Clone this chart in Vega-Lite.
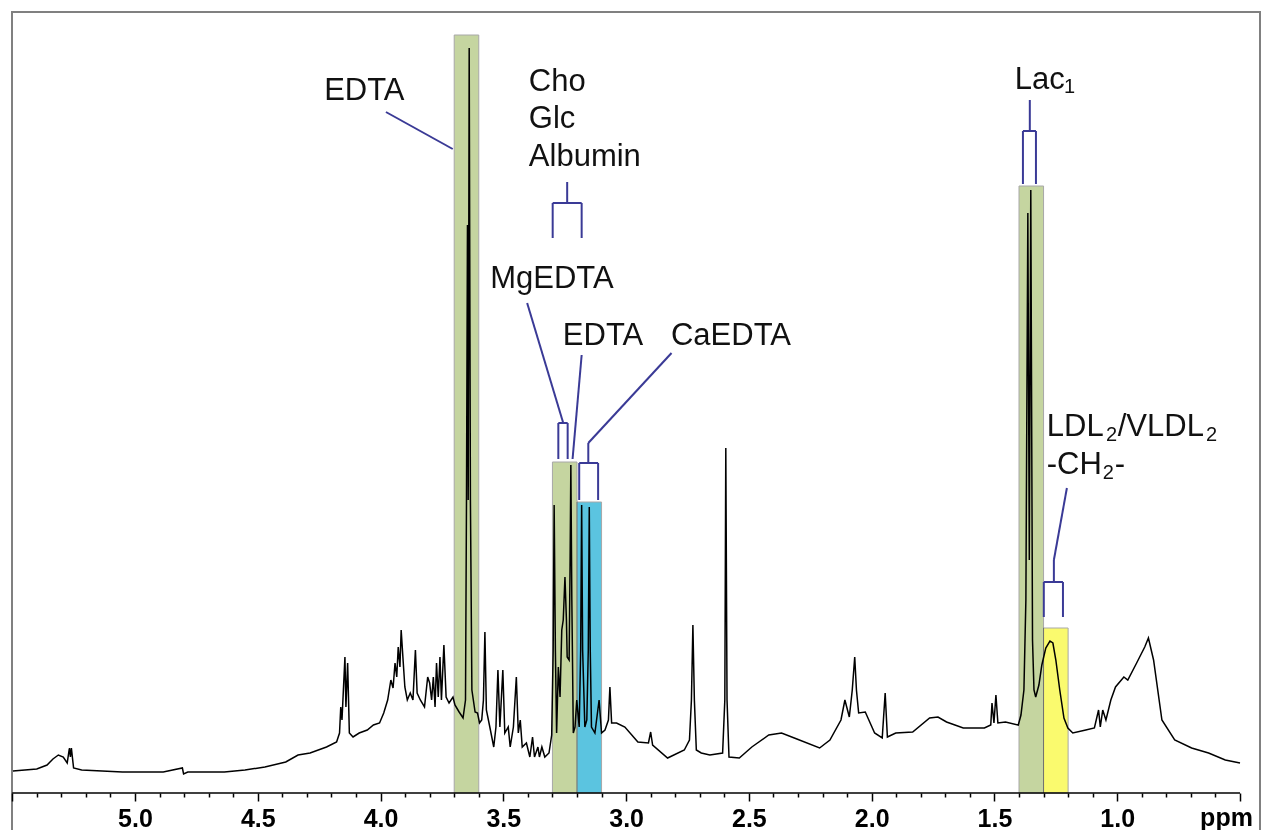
{
  "$schema": "https://vega.github.io/schema/vega-lite/v6.json",
  "autosize": {"type": "none"},
  "padding": {"left": 12, "top": 12, "right": 2, "bottom": 0},
  "width": 1248,
  "height": 820,
  "background": "white",
  "config": {"view": {"stroke": "#808080", "strokeWidth": 2}},
  "datasets": {
    "spectrum": [
      {"ppm":5.497,"I":22},{"ppm":5.400,"I":24},{"ppm":5.358,"I":28},{"ppm":5.334,"I":34},{"ppm":5.312,"I":38},{"ppm":5.292,"I":36},{"ppm":5.276,"I":30},{"ppm":5.267,"I":45},{"ppm":5.263,"I":36},{"ppm":5.259,"I":45},{"ppm":5.250,"I":25},{"ppm":5.217,"I":23},{"ppm":5.051,"I":21},{"ppm":4.885,"I":21},{"ppm":4.807,"I":25},{"ppm":4.802,"I":19},{"ppm":4.785,"I":21},{"ppm":4.636,"I":21},{"ppm":4.552,"I":23},{"ppm":4.471,"I":26},{"ppm":4.386,"I":31},{"ppm":4.336,"I":38},{"ppm":4.287,"I":40},{"ppm":4.220,"I":46},{"ppm":4.179,"I":51},{"ppm":4.167,"I":60},{"ppm":4.162,"I":86},{"ppm":4.157,"I":73},{"ppm":4.145,"I":136},{"ppm":4.141,"I":86},{"ppm":4.134,"I":130},{"ppm":4.127,"I":60},{"ppm":4.112,"I":56},{"ppm":4.087,"I":60},{"ppm":4.054,"I":63},{"ppm":4.029,"I":68},{"ppm":4.004,"I":70},{"ppm":3.987,"I":80},{"ppm":3.971,"I":93},{"ppm":3.958,"I":113},{"ppm":3.949,"I":105},{"ppm":3.941,"I":130},{"ppm":3.934,"I":116},{"ppm":3.928,"I":146},{"ppm":3.921,"I":126},{"ppm":3.916,"I":163},{"ppm":3.909,"I":136},{"ppm":3.901,"I":106},{"ppm":3.891,"I":93},{"ppm":3.879,"I":100},{"ppm":3.868,"I":93},{"ppm":3.858,"I":143},{"ppm":3.851,"I":100},{"ppm":3.838,"I":93},{"ppm":3.821,"I":86},{"ppm":3.808,"I":116},{"ppm":3.800,"I":110},{"ppm":3.792,"I":93},{"ppm":3.785,"I":116},{"ppm":3.778,"I":86},{"ppm":3.772,"I":130},{"ppm":3.765,"I":96},{"ppm":3.758,"I":136},{"ppm":3.752,"I":93},{"ppm":3.742,"I":148},{"ppm":3.733,"I":96},{"ppm":3.721,"I":90},{"ppm":3.705,"I":96},{"ppm":3.697,"I":88},{"ppm":3.680,"I":81},{"ppm":3.664,"I":75},{"ppm":3.654,"I":93},{"ppm":3.650,"I":293},{"ppm":3.646,"I":568},{"ppm":3.643,"I":293},{"ppm":3.639,"I":745},{"ppm":3.634,"I":293},{"ppm":3.628,"I":103},{"ppm":3.615,"I":81},{"ppm":3.605,"I":80},{"ppm":3.597,"I":70},{"ppm":3.588,"I":73},{"ppm":3.581,"I":93},{"ppm":3.575,"I":161},{"ppm":3.569,"I":83},{"ppm":3.555,"I":66},{"ppm":3.539,"I":46},{"ppm":3.530,"I":66},{"ppm":3.522,"I":123},{"ppm":3.514,"I":66},{"ppm":3.502,"I":123},{"ppm":3.494,"I":60},{"ppm":3.480,"I":66},{"ppm":3.472,"I":46},{"ppm":3.459,"I":66},{"ppm":3.447,"I":116},{"ppm":3.439,"I":60},{"ppm":3.431,"I":73},{"ppm":3.423,"I":46},{"ppm":3.406,"I":50},{"ppm":3.392,"I":36},{"ppm":3.381,"I":56},{"ppm":3.373,"I":36},{"ppm":3.359,"I":46},{"ppm":3.353,"I":36},{"ppm":3.343,"I":46},{"ppm":3.331,"I":36},{"ppm":3.314,"I":40},{"ppm":3.303,"I":58},{"ppm":3.297,"I":143},{"ppm":3.293,"I":288},{"ppm":3.288,"I":143},{"ppm":3.283,"I":60},{"ppm":3.276,"I":126},{"ppm":3.269,"I":96},{"ppm":3.262,"I":163},{"ppm":3.256,"I":173},{"ppm":3.249,"I":216},{"ppm":3.243,"I":173},{"ppm":3.240,"I":136},{"ppm":3.232,"I":133},{"ppm":3.228,"I":233},{"ppm":3.225,"I":328},{"ppm":3.221,"I":193},{"ppm":3.215,"I":60},{"ppm":3.208,"I":66},{"ppm":3.201,"I":93},{"ppm":3.191,"I":66},{"ppm":3.185,"I":143},{"ppm":3.181,"I":288},{"ppm":3.177,"I":143},{"ppm":3.168,"I":66},{"ppm":3.160,"I":73},{"ppm":3.154,"I":143},{"ppm":3.150,"I":286},{"ppm":3.146,"I":143},{"ppm":3.141,"I":66},{"ppm":3.127,"I":60},{"ppm":3.110,"I":93},{"ppm":3.100,"I":60},{"ppm":3.086,"I":63},{"ppm":3.072,"I":73},{"ppm":3.066,"I":106},{"ppm":3.059,"I":70},{"ppm":3.039,"I":70},{"ppm":3.005,"I":66},{"ppm":2.952,"I":51},{"ppm":2.909,"I":50},{"ppm":2.900,"I":61},{"ppm":2.892,"I":48},{"ppm":2.831,"I":35},{"ppm":2.763,"I":43},{"ppm":2.742,"I":53},{"ppm":2.734,"I":93},{"ppm":2.728,"I":168},{"ppm":2.722,"I":93},{"ppm":2.714,"I":43},{"ppm":2.694,"I":40},{"ppm":2.659,"I":38},{"ppm":2.607,"I":40},{"ppm":2.598,"I":93},{"ppm":2.594,"I":345},{"ppm":2.589,"I":93},{"ppm":2.581,"I":36},{"ppm":2.539,"I":35},{"ppm":2.488,"I":46},{"ppm":2.419,"I":58},{"ppm":2.367,"I":60},{"ppm":2.315,"I":55},{"ppm":2.212,"I":45},{"ppm":2.170,"I":53},{"ppm":2.125,"I":73},{"ppm":2.109,"I":93},{"ppm":2.091,"I":76},{"ppm":2.079,"I":103},{"ppm":2.069,"I":136},{"ppm":2.062,"I":103},{"ppm":2.053,"I":80},{"ppm":2.026,"I":81},{"ppm":1.988,"I":60},{"ppm":1.957,"I":55},{"ppm":1.945,"I":100},{"ppm":1.936,"I":56},{"ppm":1.902,"I":60},{"ppm":1.833,"I":61},{"ppm":1.764,"I":75},{"ppm":1.730,"I":76},{"ppm":1.695,"I":71},{"ppm":1.627,"I":65},{"ppm":1.541,"I":65},{"ppm":1.515,"I":68},{"ppm":1.510,"I":90},{"ppm":1.502,"I":70},{"ppm":1.494,"I":98},{"ppm":1.486,"I":70},{"ppm":1.455,"I":71},{"ppm":1.403,"I":68},{"ppm":1.392,"I":78},{"ppm":1.380,"I":103},{"ppm":1.372,"I":193},{"ppm":1.364,"I":580},{"ppm":1.358,"I":233},{"ppm":1.352,"I":603},{"ppm":1.345,"I":153},{"ppm":1.339,"I":103},{"ppm":1.332,"I":96},{"ppm":1.319,"I":108},{"ppm":1.307,"I":128},{"ppm":1.291,"I":145},{"ppm":1.274,"I":152},{"ppm":1.262,"I":150},{"ppm":1.250,"I":133},{"ppm":1.234,"I":103},{"ppm":1.217,"I":75},{"ppm":1.201,"I":65},{"ppm":1.181,"I":60},{"ppm":1.128,"I":63},{"ppm":1.093,"I":65},{"ppm":1.076,"I":83},{"ppm":1.069,"I":66},{"ppm":1.059,"I":83},{"ppm":1.046,"I":73},{"ppm":1.026,"I":93},{"ppm":1.007,"I":106},{"ppm":0.973,"I":116},{"ppm":0.957,"I":113},{"ppm":0.921,"I":130},{"ppm":0.888,"I":146},{"ppm":0.873,"I":155},{"ppm":0.852,"I":133},{"ppm":0.818,"I":73},{"ppm":0.766,"I":53},{"ppm":0.697,"I":45},{"ppm":0.628,"I":40},{"ppm":0.560,"I":33},{"ppm":0.500,"I":30}
    ],
    "boxes": [
      {"from":3.70,"to":3.60,"top":758,"base":0,"bin":"excluded"},
      {"from":3.30,"to":3.20,"top":331,"base":0,"bin":"excluded"},
      {"from":3.20,"to":3.10,"top":291,"base":0,"bin":"CaEDTA"},
      {"from":1.40,"to":1.30,"top":607,"base":0,"bin":"excluded"},
      {"from":1.30,"to":1.20,"top":165,"base":0,"bin":"LDL"}
    ],
    "segs": [
      {"x1":3.978,"y1":681,"x2":3.706,"y2":644},
      {"x1":3.240,"y1":611,"x2":3.240,"y2":590},
      {"x1":3.299,"y1":590,"x2":3.181,"y2":590},
      {"x1":3.299,"y1":590,"x2":3.299,"y2":555},
      {"x1":3.181,"y1":590,"x2":3.181,"y2":555},
      {"x1":3.403,"y1":490,"x2":3.256,"y2":370},
      {"x1":3.276,"y1":370,"x2":3.238,"y2":370},
      {"x1":3.276,"y1":370,"x2":3.276,"y2":334},
      {"x1":3.238,"y1":370,"x2":3.238,"y2":334},
      {"x1":3.181,"y1":438,"x2":3.218,"y2":334},
      {"x1":2.815,"y1":440,"x2":3.154,"y2":350},
      {"x1":3.154,"y1":350,"x2":3.154,"y2":330},
      {"x1":3.191,"y1":330,"x2":3.114,"y2":330},
      {"x1":3.191,"y1":330,"x2":3.191,"y2":293},
      {"x1":3.114,"y1":330,"x2":3.114,"y2":293},
      {"x1":1.356,"y1":693,"x2":1.356,"y2":662},
      {"x1":1.384,"y1":662,"x2":1.331,"y2":662},
      {"x1":1.384,"y1":662,"x2":1.384,"y2":609},
      {"x1":1.331,"y1":662,"x2":1.331,"y2":609},
      {"x1":1.205,"y1":305,"x2":1.258,"y2":233},
      {"x1":1.258,"y1":233,"x2":1.258,"y2":211},
      {"x1":1.299,"y1":211,"x2":1.221,"y2":211},
      {"x1":1.299,"y1":211,"x2":1.299,"y2":176},
      {"x1":1.221,"y1":211,"x2":1.221,"y2":176}
    ],
    "labelsC": [
      {"ppm":4.066,"I":693,"text":"EDTA"},
      {"ppm":3.302,"I":505,"text":"MgEDTA"},
      {"ppm":3.094,"I":448,"text":"EDTA"},
      {"ppm":2.573,"I":448,"text":"CaEDTA"}
    ],
    "labelsL": [
      {"ppm":3.396,"I":702,"text":"Cho"},
      {"ppm":3.396,"I":665,"text":"Glc"},
      {"ppm":3.396,"I":627,"text":"Albumin"},
      {"ppm":1.417,"I":704,"text":"Lac"},
      {"ppm":1.287,"I":357,"text":"LDL"},
      {"ppm":0.998,"I":357,"text":"/VLDL"},
      {"ppm":1.287,"I":319,"text":"-CH"},
      {"ppm":1.010,"I":319,"text":"-"}
    ],
    "labelsSub": [
      {"ppm":1.217,"I":700,"text":"1"},
      {"ppm":1.046,"I":352,"text":"2"},
      {"ppm":0.639,"I":352,"text":"2"},
      {"ppm":1.059,"I":314,"text":"2"}
    ],
    "axisline": [{"from":5.5,"to":0.5,"I":0}]
  },
  "encoding": {
    "x": {"field": "ppm", "type": "quantitative",
      "scale": {"domain": [0.4186, 5.5008], "reverse": true, "nice": false, "zero": false},
      "axis": {
        "values": [0.5,0.6,0.7,0.8,0.9,1.0,1.1,1.2,1.3,1.4,1.5,1.6,1.7,1.8,1.9,2.0,2.1,2.2,2.3,2.4,2.5,2.6,2.7,2.8,2.9,3.0,3.1,3.2,3.3,3.4,3.5,3.6,3.7,3.8,3.9,4.0,4.1,4.2,4.3,4.4,4.5,4.6,4.7,4.8,4.9,5.0,5.1,5.2,5.3,5.4,5.5],
        "labelExpr": "(abs(datum.value*2 - round(datum.value*2)) < 0.001 && datum.value > 0.9 && datum.value < 5.1) ? format(datum.value, '.1f') : ''",
        "tickSize": {"condition": {"test": "abs(datum.value*2 - round(datum.value*2)) < 0.001", "value": 8}, "value": 4},
        "tickColor": "black",
        "tickWidth": 1.5,
        "domain": false,
        "grid": false,
        "offset": -39,
        "labelFont": "Liberation Sans",
        "labelFontSize": 25,
        "labelFontWeight": "bold",
        "labelColor": "black",
        "labelPadding": 5,
        "labelOverlap": false,
        "labelFlush": false,
        "title": "ppm",
        "titleFont": "Liberation Sans",
        "titleFontSize": 25,
        "titleFontWeight": "bold",
        "titleColor": "black",
        "titleX": 1214,
        "titleY": 32,
        "titleAlign": "center",
        "titleBaseline": "alphabetic",
        "titleAngle": 0
      }
    },
    "y": {"field": "I", "type": "quantitative",
      "scale": {"domain": [-39, 781], "nice": false, "zero": false},
      "axis": null}
  },
  "layer": [
    {
      "data": {"name": "spectrum"},
      "mark": {"type": "line", "color": "black", "strokeWidth": 1.5, "interpolate": "linear"}
    },
    {
      "data": {"name": "boxes"},
      "mark": {"type": "rect", "blend": "multiply", "stroke": "#a8a8a8", "strokeWidth": 1},
      "encoding": {
        "x": {"field": "from", "type": "quantitative"},
        "x2": {"field": "to"},
        "y": {"field": "top", "type": "quantitative"},
        "y2": {"field": "base"},
        "fill": {"field": "bin", "type": "nominal", "legend": null,
          "scale": {"domain": ["excluded", "CaEDTA", "LDL"], "range": ["#c5d5a0", "#5bc4e0", "#fafa6e"]}}
      }
    },
    {
      "data": {"name": "segs"},
      "mark": {"type": "rule", "color": "#3a3a96", "strokeWidth": 2},
      "encoding": {
        "x": {"field": "x1", "type": "quantitative"},
        "x2": {"field": "x2"},
        "y": {"field": "y1", "type": "quantitative"},
        "y2": {"field": "y2"}
      }
    },
    {
      "data": {"name": "axisline"},
      "mark": {"type": "rule", "color": "black", "strokeWidth": 1.6},
      "encoding": {
        "x": {"field": "from", "type": "quantitative"},
        "x2": {"field": "to"},
        "y": {"field": "I", "type": "quantitative"}
      }
    },
    {
      "data": {"name": "labelsC"},
      "mark": {"type": "text", "align": "center", "baseline": "alphabetic", "font": "Liberation Sans", "fontSize": 31, "color": "#111111"},
      "encoding": {"text": {"field": "text"}}
    },
    {
      "data": {"name": "labelsL"},
      "mark": {"type": "text", "align": "left", "baseline": "alphabetic", "font": "Liberation Sans", "fontSize": 31, "color": "#111111"},
      "encoding": {"text": {"field": "text"}}
    },
    {
      "data": {"name": "labelsSub"},
      "mark": {"type": "text", "align": "left", "baseline": "alphabetic", "font": "Liberation Sans", "fontSize": 20, "color": "#111111"},
      "encoding": {"text": {"field": "text"}}
    }
  ]
}
